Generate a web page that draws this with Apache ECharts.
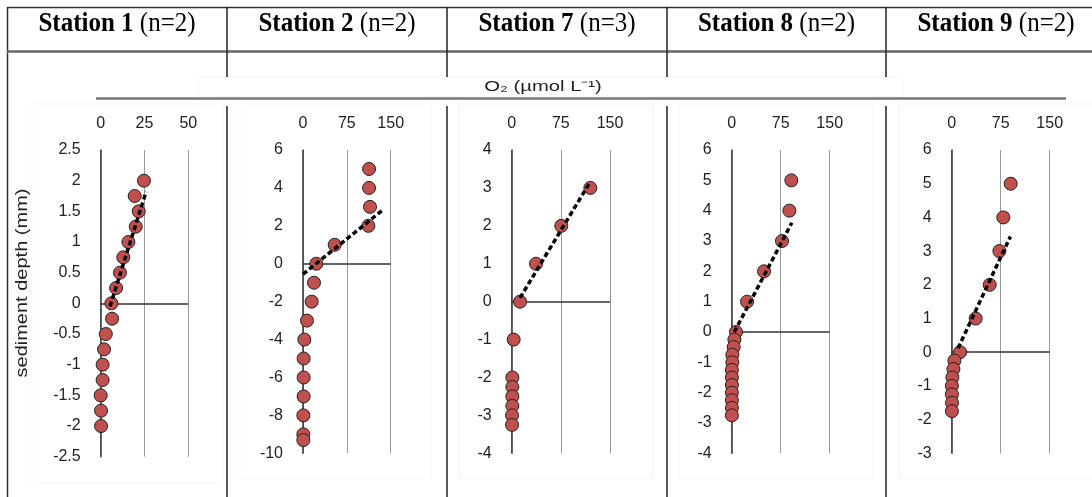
<!DOCTYPE html>
<html>
<head>
<meta charset="utf-8">
<script src="https://cdn.jsdelivr.net/npm/echarts@6/dist/echarts.min.js"></script>
<style>
html,body{margin:0;padding:0;background:#fff;}
#c{width:1092px;height:497px;}
</style>
</head>
<body>
<div id="c"></div>
<script>
// ---- data ----
const stations = ['Station 1', 'Station 2', 'Station 7', 'Station 8', 'Station 9'];
const nLabels = ['(n=2)', '(n=2)', '(n=3)', '(n=2)', '(n=2)'];
const xAxisTitle = 'O\u2082 (\u00b5mol L\u207b\u00b9)';
const yAxisTitle = 'sediment depth (mm)';

const depth1 = [2, 1.75, 1.5, 1.25, 1, 0.75, 0.5, 0.25, 0, -0.25, -0.5, -0.75, -1, -1.25, -1.5, -1.75, -2];
const o2_1   = [24.7, 19.4, 21.7, 20, 15.8, 12.9, 11, 8.8, 6.1, 6.5, 2.9, 1.9, 1.1, 1.1, 0, 0.2, 0.2];
const depth2 = [5, 4, 3, 2, 1, 0, -1, -2, -3, -4, -5, -6, -7, -8, -9, -9.3];
const o2_2   = [113, 113, 114.6, 111.8, 54.2, 22.8, 18.8, 14.8, 6.8, 2.3, 1.1, 1.1, 1.1, 0.6, 0.6, 0.6];
const depth7 = [3, 2, 1, 0, -1, -2, -2.25, -2.5, -2.75, -3, -3.25];
const o2_7   = [120, 75.7, 37.1, 12.7, 3, 1, 1, 1, 1, 0.5, 0.5];
const depth8 = [5, 4, 3, 2, 1, 0, -0.25, -0.5, -0.75, -1, -1.25, -1.5, -1.75, -2, -2.25, -2.5, -2.75];
const o2_8   = [91.3, 88.3, 77, 49.5, 23.5, 6.6, 4.1, 3, 1, 1, 0.3, 0.3, 0.3, 0.3, 0.3, 0.3, 0.3];
const depth9 = [5, 4, 3, 2, 1, 0, -0.25, -0.5, -0.75, -1, -1.25, -1.5, -1.75];
const o2_9   = [90.3, 79, 73, 58.2, 36.7, 12.8, 4.1, 2.6, 1, 0.3, 0.3, 0.5, 0.3];

// linear trendline end points
const trendDepth1 = [-0.05, 1.82]; const trendO2_1 = [5.3, 25.9];
const trendDepth2 = [-0.55, 2.8];  const trendO2_2 = [0, 135];
const trendDepth7 = [0.1, 3.15];   const trendO2_7 = [12.7, 119.5];
const trendDepth8 = [0, 3.6];      const trendO2_8 = [4, 92];
const trendDepth9 = [0.12, 3.43];  const trendO2_9 = [9.7, 89.8];

// axis ticks
const xMax = [50, 150, 150, 150, 150];
const xInterval = [25, 75, 75, 75, 75];
const yMin = [-2.5, -10, -4, -4, -3];
const yMax = [2.5, 6, 4, 6, 6];
const yInterval = [0.5, 2, 1, 1, 1];

// ---- layout ----
const depths = [depth1, depth2, depth7, depth8, depth9];
const o2s = [o2_1, o2_2, o2_7, o2_8, o2_9];
const tDepths = [trendDepth1, trendDepth2, trendDepth7, trendDepth8, trendDepth9];
const tO2s = [trendO2_1, trendO2_2, trendO2_7, trendO2_8, trendO2_9];

const gridPos = [
  {left: 100.7, top: 150, width: 87.6, height: 306.7},
  {left: 303, top: 150, width: 87.7, height: 303.3},
  {left: 511.7, top: 150, width: 98.3, height: 303.3},
  {left: 731.7, top: 150, width: 98, height: 303.3},
  {left: 951.7, top: 150, width: 98, height: 303.3}
];
const colX = [7, 227, 447, 667, 886, 1106];

const zip = (a, b) => a.map((v, i) => [v, b[i]]);
const labelFont = {fontFamily: 'Liberation Sans, Arial, sans-serif', fontSize: 16, color: '#222'};

const grid = [], xAxis = [], yAxis = [], series = [];
for (let i = 0; i < 5; i++) {
  grid.push(Object.assign({containLabel: false, outerBoundsMode: 'none'}, gridPos[i]));
  xAxis.push({
    type: 'value', gridIndex: i, position: 'top', min: 0, max: xMax[i], interval: xInterval[i],
    axisLine: {show: false}, axisTick: {show: false},
    splitLine: {show: true, lineStyle: {color: '#9a9a9a', width: 1}},
    axisLabel: Object.assign({margin: 18}, labelFont)
  });
  yAxis.push({
    type: 'value', gridIndex: i, min: yMin[i], max: yMax[i], interval: yInterval[i],
    axisLine: {show: true, onZero: false, lineStyle: {color: '#333', width: 1.5}},
    axisTick: {show: false}, splitLine: {show: false},
    axisLabel: Object.assign({margin: 20}, labelFont)
  });
  series.push({
    type: 'scatter', xAxisIndex: i, yAxisIndex: i, clip: false,
    data: zip(o2s[i], depths[i]), symbol: 'circle', symbolSize: 13,
    itemStyle: {color: '#c0504d', borderColor: '#222', borderWidth: 1, opacity: 1},
    markLine: {silent: true, symbol: 'none', label: {show: false}, z: 1,
      lineStyle: {color: '#333', width: 1.5, type: 'solid'}, data: [{yAxis: 0}]}
  });
  series.push({
    type: 'line', xAxisIndex: i, yAxisIndex: i, z: 5,
    data: zip(tO2s[i], tDepths[i]), showSymbol: false, symbol: 'none',
    lineStyle: {color: '#000', width: 3.5, type: [5, 3], cap: 'butt'}
  });
}

const graphic = [];
// faint chart-area boxes
const boxes = [[32, 104, 191, 379], [240, 104, 191, 375], [459, 104, 194, 375], [679, 104, 194, 375], [899, 104, 200, 375]];
boxes.forEach(b => graphic.push({type: 'rect', shape: {x: b[0], y: b[1], width: b[2], height: b[3]},
  style: {fill: 'none', stroke: '#f5f5f5', lineWidth: 1}, silent: true, z: -5}));
graphic.push({type: 'rect', shape: {x: 198, y: 77, width: 705, height: 20},
  style: {fill: 'none', stroke: '#f5f5f5', lineWidth: 1}, silent: true, z: -5});
// table lines
const L = (x1, y1, x2, y2, c, w) => graphic.push({type: 'line', silent: true,
  shape: {x1, y1, x2, y2}, style: {stroke: c, lineWidth: w}});
L(7, 7.5, 1092, 7.5, '#333', 1.5);
L(7.5, 7, 7.5, 497, '#333', 1.5);
L(7, 51.5, 1092, 51.5, '#666', 2.5);
for (let k = 1; k < 5; k++) {
  L(colX[k], 7, colX[k], 77, '#222', 1.5);
  L(colX[k], 106, colX[k], 497, '#222', 1.5);
}
L(96, 98.5, 1066, 98.5, '#777', 2.5);
// headers
const serif = 'Liberation Serif, Times New Roman, serif';
for (let k = 0; k < 5; k++) {
  graphic.push({type: 'text', silent: true, x: (colX[k] + colX[k + 1]) / 2, y: 24, scaleY: 1.12,
    style: {text: '{b|' + stations[k] + '}{s| }{r|' + nLabels[k] + '}', align: 'center', verticalAlign: 'middle',
      fill: '#000',
      rich: {b: {fontFamily: serif, fontWeight: 'bold', fontSize: 25, fill: '#000'},
             s: {fontFamily: serif, fontSize: 25, fill: '#000'},
             r: {fontFamily: serif, fontSize: 25, fill: '#000'}}}});
}
graphic.push({type: 'text', silent: true, x: 543, y: 87, scaleX: 1.35,
  style: {text: xAxisTitle, align: 'center', verticalAlign: 'middle', fill: '#222',
    font: '15px "Liberation Sans", Arial, sans-serif'}});
graphic.push({type: 'text', silent: true, x: 23, y: 283, rotation: Math.PI / 2, scaleX: 1.25,
  style: {text: yAxisTitle, align: 'center', verticalAlign: 'middle', fill: '#222',
    font: '16px "Liberation Sans", Arial, sans-serif'}});

const chart = echarts.init(document.getElementById('c'), null, {renderer: 'canvas'});
chart.setOption({
  animation: false,
  backgroundColor: '#fff',
  grid, xAxis, yAxis, series, graphic
});
</script>
</body>
</html>
